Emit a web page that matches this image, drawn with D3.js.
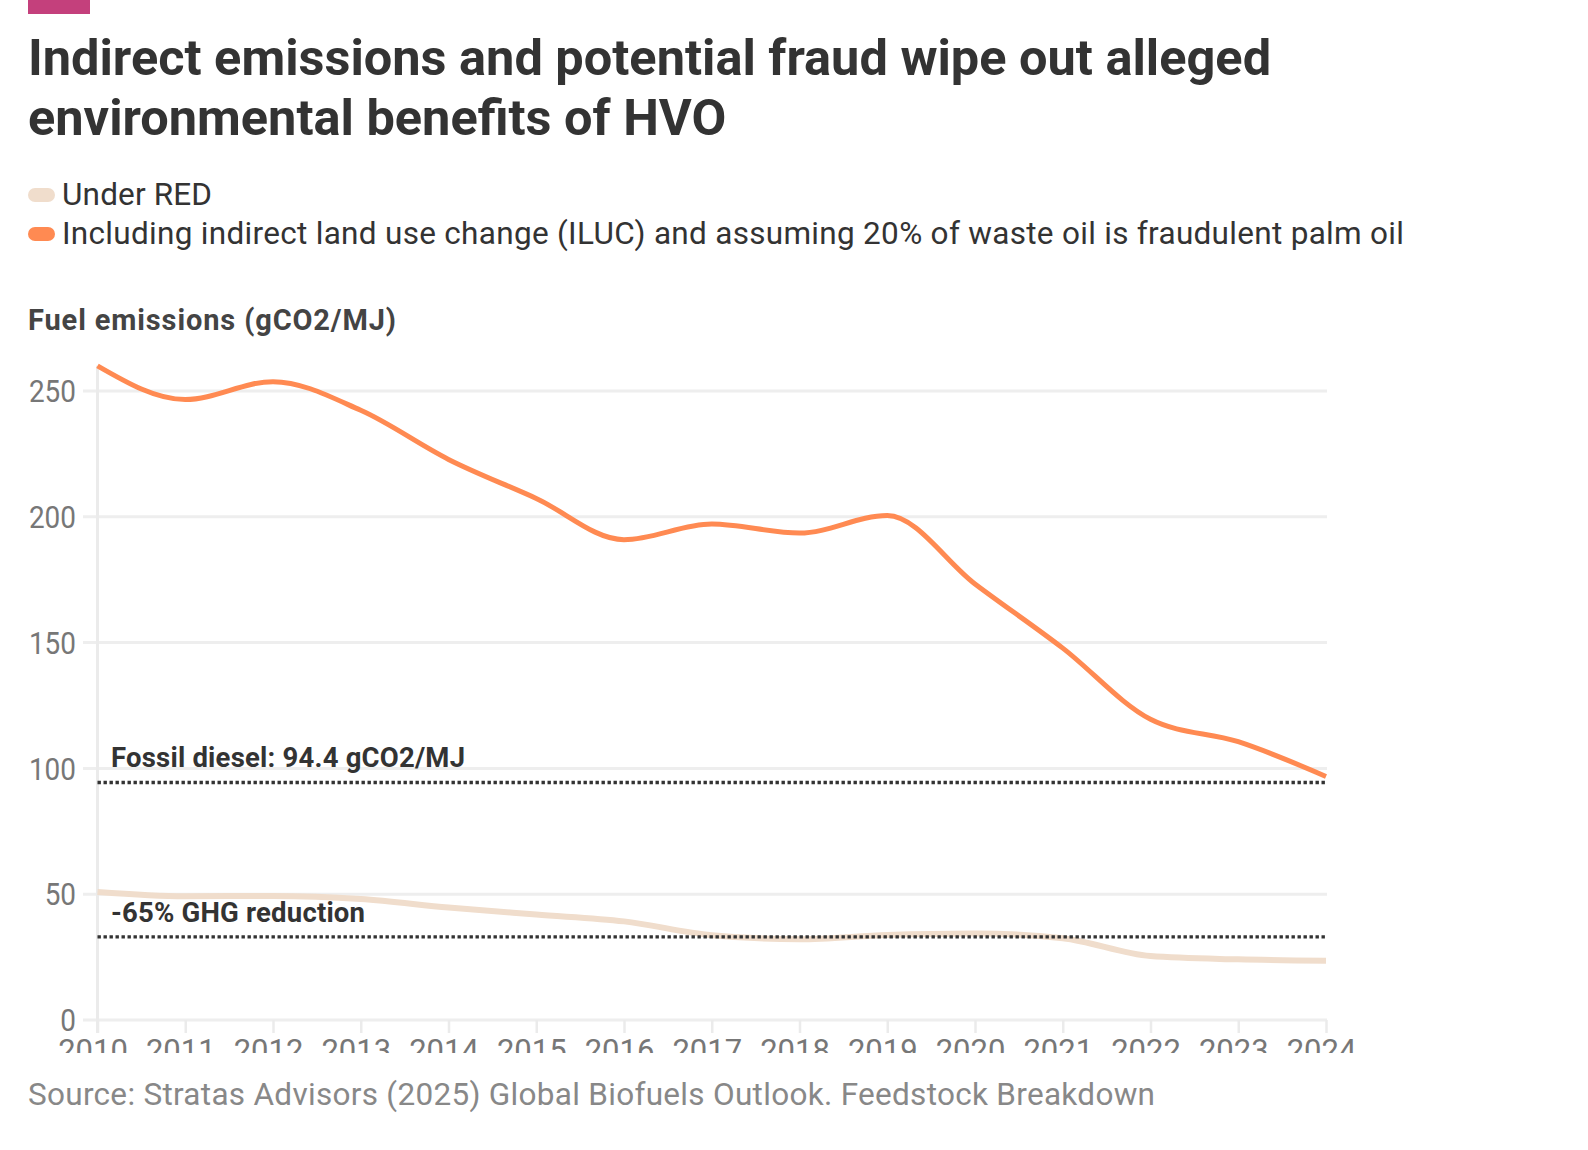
<!DOCTYPE html>
<html>
<head>
<meta charset="utf-8">
<script src="https://cdn.jsdelivr.net/npm/d3@7"></script>
<style>
  html, body { margin: 0; padding: 0; background: #fff; }
  svg { display: block; font-family: Roboto, "Noto Sans", sans-serif; }
</style>
</head>
<body>
<svg id="chart" width="1588" height="1150"></svg>
<script>
const years = [2010, 2011, 2012, 2013, 2014, 2015, 2016, 2017, 2018, 2019, 2020, 2021, 2022, 2023, 2024];
const underRED = [50.9, 49.2, 49.3, 48.1, 44.7, 41.9, 39.2, 33.7, 32.1, 33.8, 34.4, 32.5, 25.4, 24.1, 23.5];
const includingILUC = [260, 246.6, 253.7, 242.3, 222.8, 207.3, 190.9, 197.1, 193.5, 200.5, 173.3, 147.8, 119.5, 110.6, 96.8];
const yTicks = [0, 50, 100, 150, 200, 250];
const seriesNames = ["Under RED", "Including indirect land use change (ILUC) and assuming 20% of waste oil is fraudulent palm oil"];
const seriesColors = ["#f0ddcc", "#ff8a52"];
const fossilDiesel = 94.4;
const ghgTarget = fossilDiesel * 0.35;
const refLabels = ["Fossil diesel: 94.4 gCO2/MJ", "-65% GHG reduction"];
const titleLines = ["Indirect emissions and potential fraud wipe out alleged", "environmental benefits of HVO"];
const yTitle = "Fuel emissions (gCO2/MJ)";
const sourceText = "Source: Stratas Advisors (2025) Global Biofuels Outlook. Feedstock Breakdown";

const svg = d3.select("#chart");

function fitWidth(sel, w) {
  sel.attr("textLength", w).attr("lengthAdjust", "spacing");
}

// top accent bar
svg.append("rect").attr("x", 28).attr("y", 0).attr("width", 62).attr("height", 14).attr("fill", "#c4407c");

// title
svg.append("g").selectAll("text").data(titleLines).join("text")
  .attr("x", 28).attr("y", (d, i) => 75 + i * 60)
  .attr("font-size", 50.5).attr("font-weight", 700).attr("fill", "#333")
  .text(d => d);

// legend
const legend = svg.append("g");
const legendWidths = [150, 1342];
seriesNames.forEach((name, i) => {
  const yb = 205 + i * 39;
  legend.append("rect").attr("x", 28).attr("y", yb - 17).attr("width", 27).attr("height", 14)
    .attr("rx", 7).attr("fill", seriesColors[i]);
  legend.append("text").attr("x", 62).attr("y", yb).attr("font-size", 31.5).attr("fill", "#333").text(name)
    .call(fitWidth, legendWidths[i]);
});

// axis title
svg.append("text").attr("x", 28).attr("y", 330).attr("font-size", 29).attr("font-weight", 700)
  .attr("fill", "#444").text(yTitle).call(fitWidth, 368);

const x = d3.scaleLinear().domain([years[0], years[years.length - 1]]).range([97.5, 1326]);
const y = d3.scaleLinear().domain([0, 260]).range([1020, 365.8]);

// gridlines
svg.append("g").selectAll("line").data(yTicks).join("line")
  .attr("x1", 83).attr("x2", 1327)
  .attr("y1", d => y(d)).attr("y2", d => y(d))
  .attr("stroke", "#eeeeee").attr("stroke-width", 3);

// y labels
svg.append("g").selectAll("text").data(yTicks).join("text")
  .attr("x", 76).attr("y", d => y(d)).attr("dy", "0.36em")
  .attr("text-anchor", "end").attr("font-size", 31).attr("fill", "#777")
  .text(d => d)
  .each(function () {
    const w = this.getComputedTextLength();
    d3.select(this).attr("textLength", w * 0.9).attr("lengthAdjust", "spacingAndGlyphs");
  });

// y axis line
svg.append("line").attr("x1", x(years[0])).attr("x2", x(years[0]))
  .attr("y1", y(260)).attr("y2", 1033).attr("stroke", "#ebebeb").attr("stroke-width", 3);

// x axis (labels are cut off at the bottom, as in the reference)
const xAxis = d3.axisBottom(x).tickValues(years).tickFormat(d3.format("d")).tickSize(13).tickPadding(8);
svg.append("defs").append("clipPath").attr("id", "clipx")
  .append("rect").attr("x", -100).attr("y", -40).attr("width", 1800).attr("height", 73);
const gx = svg.append("g").attr("transform", "translate(0,1020)").attr("clip-path", "url(#clipx)").call(xAxis);
gx.select(".domain").remove();
gx.selectAll(".tick line").attr("stroke", "#ebebeb").attr("stroke-width", 2.5);
gx.selectAll(".tick text").attr("font-size", 31).attr("fill", "#777")
  .attr("font-family", "Roboto, sans-serif").attr("dy", 0).attr("y", 41).attr("x", -5);

// series lines
const line = d3.line().x((d, i) => x(years[i])).y(d => y(d)).curve(d3.curveMonotoneX);
svg.append("path").datum(underRED).attr("d", line).attr("fill", "none")
  .attr("stroke", seriesColors[0]).attr("stroke-width", 6).attr("stroke-linecap", "butt");
svg.append("path").datum(includingILUC).attr("d", line).attr("fill", "none")
  .attr("stroke", seriesColors[1]).attr("stroke-width", 5).attr("stroke-linecap", "butt");

// reference lines (drawn over the series)
const refs = [fossilDiesel, ghgTarget];
svg.append("g").selectAll("line").data(refs).join("line")
  .attr("x1", x(years[0])).attr("x2", x(years[years.length - 1]))
  .attr("y1", d => y(d)).attr("y2", d => y(d))
  .attr("stroke", "#333").attr("stroke-width", 3.4).attr("stroke-dasharray", "3.4,2.6");

// reference labels
const refWidths = [354, 254];
svg.append("g").selectAll("text").data(refLabels).join("text")
  .attr("x", 111).attr("y", (d, i) => i === 0 ? 766.5 : 922)
  .attr("font-size", 27.5).attr("font-weight", 700).attr("fill", "#333")
  .text(d => d)
  .each(function (d, i) { d3.select(this).call(fitWidth, refWidths[i]); });

// source
svg.append("text").attr("x", 28).attr("y", 1105).attr("font-size", 31.5).attr("fill", "#888")
  .text(sourceText).call(fitWidth, 1127);
</script>
</body>
</html>
